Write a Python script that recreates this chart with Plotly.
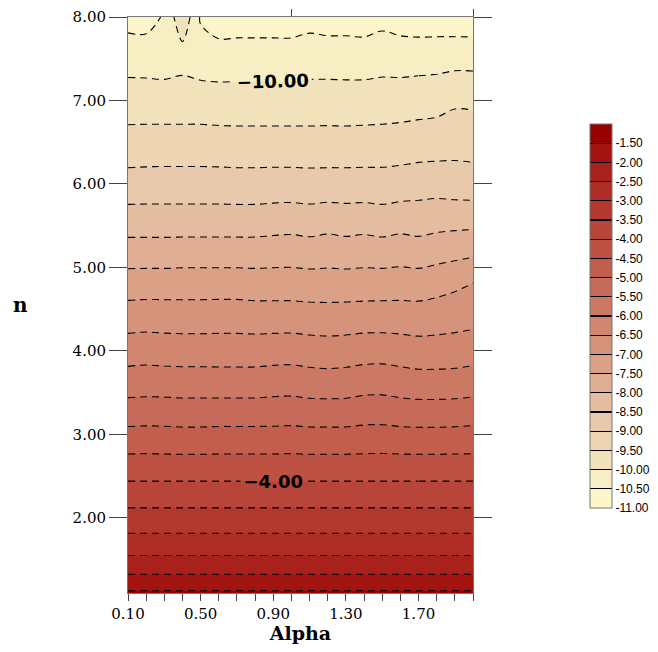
import plotly.graph_objects as go

# ---------------- data ----------------
alpha = [0.1, 0.2, 0.3, 0.4, 0.5, 0.6, 0.7, 0.8, 0.9, 1.0,
         1.1, 1.2, 1.3, 1.4, 1.5, 1.6, 1.7, 1.8, 1.9, 2.0]

n_vals = [1.10, 1.22, 1.43, 1.67, 1.96, 2.28, 2.60, 2.93, 3.26, 3.62,
          4.01, 4.41, 4.80, 5.17, 5.55, 5.96, 6.43, 6.99, 7.56, 8.00]

z_rows = [
    [-1.43] * 20,
    [-1.75] * 20,
    [-2.25] * 20,
    [-2.75] * 20,
    [-3.25] * 20,
    [-3.75] * 20,
    [-4.25] * 20,
    [-4.75, -4.74, -4.75, -4.76, -4.76, -4.75, -4.75, -4.75, -4.75, -4.74, -4.76, -4.76, -4.76, -4.74, -4.73, -4.75, -4.76, -4.76, -4.75, -4.74],
    [-5.25, -5.24, -5.24, -5.26, -5.26, -5.25, -5.25, -5.25, -5.24, -5.23, -5.26, -5.26, -5.26, -5.21, -5.21, -5.25, -5.27, -5.27, -5.26, -5.23],
    [-5.75, -5.73, -5.74, -5.75, -5.75, -5.76, -5.76, -5.76, -5.73, -5.72, -5.76, -5.78, -5.76, -5.71, -5.70, -5.75, -5.79, -5.79, -5.78, -5.74],
    [-6.25, -6.23, -6.25, -6.26, -6.26, -6.26, -6.26, -6.26, -6.24, -6.23, -6.27, -6.29, -6.27, -6.23, -6.22, -6.26, -6.30, -6.30, -6.28, -6.24],
    [-6.75, -6.73, -6.74, -6.75, -6.75, -6.74, -6.74, -6.76, -6.76, -6.76, -6.78, -6.79, -6.78, -6.76, -6.76, -6.76, -6.78, -6.74, -6.70, -6.66],
    [-7.25, -7.24, -7.24, -7.23, -7.23, -7.23, -7.23, -7.25, -7.25, -7.25, -7.27, -7.27, -7.27, -7.26, -7.25, -7.24, -7.24, -7.18, -7.09, -6.98],
    [-7.75, -7.75, -7.75, -7.74, -7.74, -7.74, -7.74, -7.74, -7.72, -7.71, -7.74, -7.71, -7.74, -7.71, -7.74, -7.70, -7.75, -7.68, -7.63, -7.58],
    [-8.25, -8.25, -8.25, -8.25, -8.25, -8.25, -8.25, -8.25, -8.22, -8.20, -8.24, -8.19, -8.23, -8.20, -8.25, -8.19, -8.22, -8.17, -8.15, -8.14],
    [-8.75, -8.74, -8.74, -8.74, -8.74, -8.74, -8.75, -8.75, -8.74, -8.74, -8.75, -8.74, -8.74, -8.74, -8.75, -8.72, -8.67, -8.66, -8.70, -8.72],
    [-9.25, -9.24, -9.23, -9.23, -9.23, -9.24, -9.25, -9.25, -9.25, -9.25, -9.26, -9.26, -9.26, -9.25, -9.24, -9.22, -9.19, -9.17, -9.14, -9.16],
    [-9.75, -9.75, -9.76, -9.76, -9.76, -9.78, -9.78, -9.78, -9.78, -9.78, -9.77, -9.76, -9.77, -9.76, -9.75, -9.73, -9.70, -9.67, -9.57, -9.58],
    [-10.25, -10.26, -10.28, -10.20, -10.30, -10.32, -10.31, -10.31, -10.31, -10.31, -10.27, -10.28, -10.28, -10.29, -10.24, -10.27, -10.26, -10.25, -10.24, -10.24],
    [-10.69, -10.70, -10.45, -9.60, -10.55, -10.76, -10.75, -10.75, -10.75, -10.75, -10.68, -10.73, -10.73, -10.75, -10.66, -10.74, -10.79, -10.79, -10.80, -10.81],
]

# colour of each 0.5-wide band, from the lowest (-11..-10.5) to the highest (-1.5..-1)
band_colors = [
    "#FCF6CA", "#F8EEC4", "#F2E2BC", "#EDD5B4", "#E8C9AB",
    "#E4BC9F", "#DFAE93", "#DAA187", "#D5937B", "#D0866F",
    "#CB7864", "#C66B59", "#C15E4E", "#BD5243", "#B84539",
    "#B3392F", "#AE2D25", "#A9211B", "#A31410", "#990000",
]

cb_tickvals = [-11.0, -10.5, -10.0, -9.5, -9.0, -8.5, -8.0, -7.5, -7.0, -6.5,
               -6.0, -5.5, -5.0, -4.5, -4.0, -3.5, -3.0, -2.5, -2.0, -1.5]
cb_ticktext = ["-11.00", "-10.50", "-10.00", "-9.50", "-9.00", "-8.50", "-8.00",
               "-7.50", "-7.00", "-6.50", "-6.00", "-5.50", "-5.00", "-4.50",
               "-4.00", "-3.50", "-3.00", "-2.50", "-2.00", "-1.50"]
cb_min, cb_max = -11.0, -1.0

# ---------------- figure ----------------
nb = len(band_colors)
colorscale = [[i / (nb - 1), c] for i, c in enumerate(band_colors)]

# stepped scale (one flat step per band, thin black separator between steps) for the colour bar
w = 0.0014
cb_scale = []
for k, c in enumerate(band_colors):
    lo, hi = k / nb, (k + 1) / nb
    if k > 0:
        cb_scale.append([lo - w, "black"])
        cb_scale.append([lo + w, "black"])
    cb_scale.append([lo + (w if k > 0 else 0), c])
    cb_scale.append([hi - (w if k < nb - 1 else 0), c])

common = dict(x=alpha, y=n_vals, z=z_rows, autocontour=False, hoverinfo="skip")
DASH = "7px,5px"
LINE = dict(color="black", width=1.1, dash=DASH, smoothing=1)

fig = go.Figure()

# filled bands
fig.add_trace(go.Contour(
    **common, colorscale=colorscale, showscale=False,
    contours=dict(start=-10.5, end=-1.5, size=0.5, coloring="fill", showlines=False),
    line=dict(width=0, smoothing=1),
))

# same field on hidden axes: only provides the stepped colour bar
fig.add_trace(go.Heatmap(
    x=alpha, y=n_vals, z=z_rows, xaxis="x3", yaxis="y3", hoverinfo="skip",
    zmin=cb_min, zmax=cb_max, colorscale=cb_scale, showscale=True,
    colorbar=dict(
        x=1.339, xanchor="left", xpad=0, y=0.481, yanchor="middle", ypad=0,
        len=384, lenmode="pixels", thickness=22, thicknessmode="pixels",
        outlinewidth=1, outlinecolor="#777777",
        tickmode="array", tickvals=cb_tickvals, ticktext=cb_ticktext, ticks="",
        tickfont=dict(family="Liberation Sans", size=12, color="black"),
    ),
))

# dashed contour lines (labelled levels handled separately)
for s, e in [(-10.5, -1.5), (-9.0, -5.0), (-3.0, -2.0)]:
    fig.add_trace(go.Contour(
        **common, showscale=False,
        contours=dict(start=s, end=e, size=1.0, coloring="none"),
        line=LINE,
    ))

# labelled levels -10 and -4: labelled part (alpha 0.1 .. 1.7) + plain remainder (1.7 .. 2.0)
split = alpha.index(1.7)
fig.add_trace(go.Contour(
    x=alpha[:split + 1], y=n_vals, z=[r[:split + 1] for r in z_rows],
    autocontour=False, hoverinfo="skip", showscale=False,
    contours=dict(start=-10.0, end=-4.0, size=6.0, coloring="none",
                  showlabels=True, labelformat=".2f",
                  labelfont=dict(family="DejaVu Sans", size=18, color="black", weight="bold")),
    line=LINE,
))
# remainder drawn against the top axis (same range) so that axis is rendered
fig.add_trace(go.Contour(
    x=alpha[split:], y=n_vals, z=[r[split:] for r in z_rows], xaxis="x2",
    autocontour=False, hoverinfo="skip", showscale=False,
    contours=dict(start=-10.0, end=-4.0, size=6.0, coloring="none"),
    line=LINE,
))

serif = "DejaVu Serif"
# the page body adds an 8 px offset, so the figure is 16 px smaller than the window
fig.update_layout(
    width=642, height=636,
    margin=dict(l=120, r=177, t=9, b=51, autoexpand=False),
    paper_bgcolor="white", plot_bgcolor="white",
    showlegend=False,
    xaxis=dict(
        range=[0.1, 2.0], tick0=0.1, dtick=0.4, tickformat=".2f",
        ticks="outside", ticklen=7, tickcolor="#444444", tickwidth=1,
        minor=dict(tick0=0.1, dtick=0.1, ticks="outside", ticklen=7, tickcolor="#444444"),
        showline=True, linecolor="#777777", linewidth=1, mirror=True,
        showgrid=False, zeroline=False,
        tickfont=dict(family=serif, size=15, color="black"),
        title=dict(text="<b>Alpha</b>", font=dict(family=serif, size=19, color="black"), standoff=23),
    ),
    yaxis=dict(
        range=[1.1, 8.0], tick0=0, dtick=1, tickformat=".2f",
        ticks="outside", ticklen=18, tickcolor="#444444", tickwidth=1,
        showline=True, linecolor="#777777", linewidth=1, mirror="ticks",
        showgrid=False, zeroline=False,
        tickfont=dict(family=serif, size=15, color="black"),
    ),
    xaxis2=dict(
        overlaying="x", side="top", anchor="y", range=[0.1, 2.0],
        tick0=0, dtick=1, ticks="outside", ticklen=7, tickcolor="#444444",
        showticklabels=False, showgrid=False, zeroline=False, showline=False,
    ),
    xaxis3=dict(overlaying="x", anchor="y3", range=[50, 60], visible=False),
    yaxis3=dict(overlaying="y", anchor="x3", range=[50, 60], visible=False),
    annotations=[dict(
        text="<b>n</b>", xref="paper", yref="paper", x=-0.313, y=0.5,
        xanchor="center", yanchor="middle", showarrow=False,
        font=dict(family=serif, size=20, color="black"),
    )],
)

fig.write_html("out.html")
